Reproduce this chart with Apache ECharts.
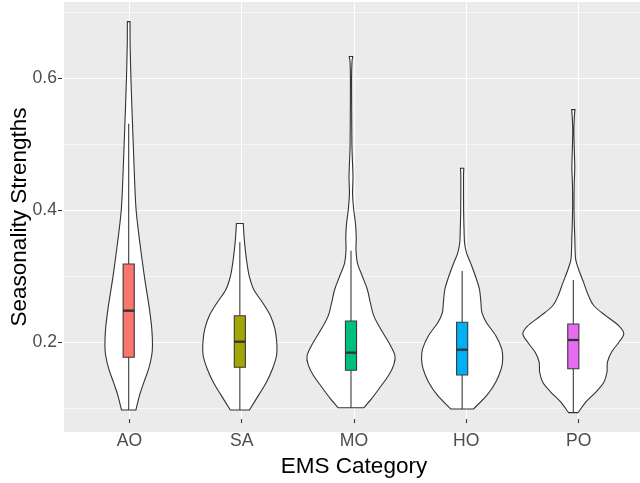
<!DOCTYPE html>
<html><head><meta charset="utf-8">
<script src="https://cdn.jsdelivr.net/npm/echarts@6/dist/echarts.min.js"></script>
<style>html,body{margin:0;padding:0;background:#fff}#c{width:640px;height:483px}</style>
</head><body><div id="c"></div>
<script>
// ---------------- data ----------------
const categories = ['AO', 'SA', 'MO', 'HO', 'PO'];
const yTickLabels = ['0.2', '0.4', '0.6'];

// violin outlines: value levels and half-widths (in category units)
const aoLevels = [0.0974, 0.12, 0.14, 0.16, 0.18, 0.195, 0.22, 0.25, 0.30, 0.35, 0.40, 0.45, 0.50, 0.55, 0.60, 0.65, 0.6858];
const aoWidths = [0.065, 0.098, 0.138, 0.180, 0.207, 0.214, 0.208, 0.187, 0.141, 0.101, 0.067, 0.052, 0.041, 0.030, 0.020, 0.013, 0.012];

const saLevels = [0.0974, 0.12, 0.14, 0.16, 0.18, 0.20, 0.22, 0.24, 0.26, 0.28, 0.30, 0.32, 0.34, 0.36, 0.38];
const saWidths = [0.086, 0.169, 0.240, 0.294, 0.330, 0.332, 0.316, 0.276, 0.205, 0.125, 0.085, 0.064, 0.049, 0.038, 0.031];

const moLevels = [0.1009, 0.115, 0.13, 0.15, 0.165, 0.18, 0.20, 0.22, 0.24, 0.26, 0.28, 0.30, 0.32, 0.34, 0.36, 0.38, 0.40, 0.425, 0.45, 0.47, 0.50, 0.55, 0.60, 0.625, 0.633];
const moWidths = [0.116, 0.187, 0.254, 0.339, 0.383, 0.395, 0.339, 0.267, 0.205, 0.174, 0.147, 0.102, 0.058, 0.045, 0.047, 0.040, 0.025, 0.014, 0.018, 0.014, 0.008, 0.006, 0.005, 0.009, 0.016];

const hoLevels = [0.099, 0.12, 0.14, 0.16, 0.175, 0.19, 0.21, 0.23, 0.245, 0.26, 0.28, 0.30, 0.32, 0.335, 0.35, 0.37, 0.40, 0.45, 0.4636];
const hoWidths = [0.102, 0.223, 0.303, 0.352, 0.365, 0.356, 0.303, 0.218, 0.178, 0.169, 0.156, 0.120, 0.076, 0.040, 0.022, 0.017, 0.013, 0.012, 0.015];

const poLevels = [0.0935, 0.11, 0.125, 0.14, 0.155, 0.17, 0.185, 0.20, 0.213, 0.225, 0.24, 0.255, 0.27, 0.29, 0.31, 0.325, 0.34, 0.36, 0.38, 0.41, 0.44, 0.465, 0.49, 0.52, 0.54, 0.5525];
const poWidths = [0.043, 0.116, 0.205, 0.276, 0.303, 0.307, 0.343, 0.410, 0.454, 0.410, 0.294, 0.187, 0.138, 0.094, 0.049, 0.022, 0.016, 0.013, 0.009, 0.006, 0.008, 0.013, 0.009, 0.005, 0.009, 0.015];

// box plot statistics
const boxQ1 = [0.1773, 0.1621, 0.1576, 0.1505, 0.1600];
const boxMedian = [0.2479, 0.2009, 0.1843, 0.1888, 0.2035];
const boxQ3 = [0.3186, 0.2403, 0.2323, 0.2303, 0.2277];
const whiskerLow = [0.0974, 0.0974, 0.1009, 0.0990, 0.0935];
const whiskerHigh = [0.5310, 0.3515, 0.3388, 0.3080, 0.2944];

// ---------------- style / layout ----------------
const levelsList = [aoLevels, saLevels, moLevels, hoLevels, poLevels];
const widthsList = [aoWidths, saWidths, moWidths, hoWidths, poWidths];
const fillColors = ['#F8766D', '#A3A500', '#00BF7D', '#00B0F6', '#E76BF3'];
const FONT = 'Liberation Sans, Arial, Helvetica, sans-serif';

const PL = 62, PT = 2, PW = 584, PH = 430;     // panel
const UNIT = PW / 5.2;                          // one category step
const PX_PER = 660;                             // pixels per 1.0 of y
const Y02 = 342.3;                              // pixel of y = 0.2
const yPix = v => Y02 - (v - 0.2) * PX_PER;

const chart = echarts.init(document.getElementById('c'), null, {renderer: 'canvas'});

// smooth curve through pixel points (Catmull-Rom as cubic Bezier segments)
function curveSegs(p) {
  let d = '';
  const n = p.length;
  for (let k = 0; k < n - 1; k++) {
    const p0 = p[Math.max(k - 1, 0)], p1 = p[k], p2 = p[k + 1], p3 = p[Math.min(k + 2, n - 1)];
    const c1 = [p1[0] + (p2[0] - p0[0]) / 6, p1[1] + (p2[1] - p0[1]) / 6];
    const c2 = [p2[0] - (p3[0] - p1[0]) / 6, p2[1] - (p3[1] - p1[1]) / 6];
    d += ' C' + c1[0].toFixed(2) + ',' + c1[1].toFixed(2) + ' ' + c2[0].toFixed(2) + ',' + c2[1].toFixed(2) + ' ' + p2[0].toFixed(2) + ',' + p2[1].toFixed(2);
  }
  return d;
}

function renderViolin(params, api) {
  const i = api.value(0);
  const lv = levelsList[i], wd = widthsList[i];
  const left = [], right = [];
  for (let k = 0; k < lv.length; k++) left.push(api.coord([i - wd[k], lv[k]]));
  for (let k = lv.length - 1; k >= 0; k--) right.push(api.coord([i + wd[k], lv[k]]));
  let d = 'M' + left[0][0].toFixed(2) + ',' + left[0][1].toFixed(2);
  d += curveSegs(left);
  d += ' L' + right[0][0].toFixed(2) + ',' + right[0][1].toFixed(2);
  d += curveSegs(right);
  d += ' Z';
  return {
    type: 'path',
    shape: {pathData: d},
    style: {fill: '#FFFFFF', stroke: '#333333', lineWidth: 1.1, lineJoin: 'miter'}
  };
}

function renderBox(params, api) {
  const i = api.value(0);
  const hw = 0.05;
  const tl = api.coord([i - hw, boxQ3[i]]);
  const br = api.coord([i + hw, boxQ1[i]]);
  const mL = api.coord([i - hw, boxMedian[i]]);
  const mR = api.coord([i + hw, boxMedian[i]]);
  const wl0 = api.coord([i, whiskerLow[i]]);
  const wl1 = api.coord([i, boxQ1[i]]);
  const wh0 = api.coord([i, boxQ3[i]]);
  const wh1 = api.coord([i, whiskerHigh[i]]);
  const ls = {stroke: '#3a3a3a', lineWidth: 1.1};
  return {
    type: 'group',
    children: [
      {type: 'line', shape: {x1: wl0[0], y1: wl0[1], x2: wl1[0], y2: wl1[1]}, style: ls},
      {type: 'line', shape: {x1: wh0[0], y1: wh0[1], x2: wh1[0], y2: wh1[1]}, style: ls},
      {type: 'rect', shape: {x: tl[0], y: tl[1], width: br[0] - tl[0], height: br[1] - tl[1]},
        style: {fill: fillColors[i], stroke: '#3a3a3a', lineWidth: 1.1}},
      {type: 'line', shape: {x1: mL[0], y1: mL[1], x2: mR[0], y2: mR[1]},
        style: {stroke: '#333333', lineWidth: 2.3}}
    ]
  };
}

const catIdx = categories.map((c, i) => [i]);

const option = {
  animation: false,
  backgroundColor: '#FFFFFF',
  grid: [
    {left: PL, top: PT, width: PW, height: PH, show: true, backgroundColor: '#EBEBEB', borderWidth: 0, z: -1},
    {left: PL, top: yPix(0.7), width: PW, height: yPix(0.1) - yPix(0.7), show: false},
    {left: PL, top: yPix(0.6), width: PW, height: yPix(0.2) - yPix(0.6), show: false},
    {left: PL + 0.6 * UNIT, top: PT, width: 4 * UNIT, height: PH, show: false}
  ],
  xAxis: [
    {gridIndex: 0, type: 'value', show: false, min: 0, max: 1},
    {gridIndex: 1, type: 'value', show: false, min: 0, max: 1},
    {gridIndex: 2, type: 'value', show: false, min: -0.6, max: 4.6},
    {gridIndex: 3, type: 'value', min: 0, max: 4, interval: 1, position: 'bottom',
      axisLine: {show: false, onZero: false},
      axisTick: {show: true, length: 4, lineStyle: {color: '#333333', width: 1.07}},
      axisLabel: {formatter: v => categories[v] || '', color: '#4D4D4D', fontSize: 17.6, fontFamily: FONT, margin: 13},
      splitLine: {show: true, lineStyle: {color: '#FFFFFF', width: 1.07}},
      name: 'EMS Category', nameLocation: 'middle', nameGap: 21,
      nameTextStyle: {color: '#000000', fontSize: 22.5, fontFamily: FONT}
    }
  ],
  yAxis: [
    {gridIndex: 0, type: 'value', min: 0, max: 1, position: 'left',
      axisLine: {show: false, onZero: false}, axisTick: {show: false}, axisLabel: {show: false}, splitLine: {show: false},
      name: 'Seasonality Strengths', nameLocation: 'middle', nameGap: 33,
      nameTextStyle: {color: '#000000', fontSize: 22.5, fontFamily: FONT}
    },
    {gridIndex: 1, type: 'value', min: 0.1, max: 0.7, interval: 0.1,
      axisLine: {show: false, onZero: false}, axisTick: {show: false}, axisLabel: {show: false},
      splitLine: {show: true, lineStyle: {color: '#FFFFFF', width: 0.55}}
    },
    {gridIndex: 2, type: 'value', min: 0.2, max: 0.6, interval: 0.2, position: 'left',
      axisLine: {show: false, onZero: false},
      axisTick: {show: true, length: 4, lineStyle: {color: '#333333', width: 1.07}},
      axisLabel: {formatter: v => yTickLabels[Math.round(v / 0.2) - 1] || '', color: '#4D4D4D', fontSize: 17.6, fontFamily: FONT, margin: 5},
      splitLine: {show: true, lineStyle: {color: '#FFFFFF', width: 1.07}}
    },
    {gridIndex: 3, type: 'value', show: false, min: 0, max: 1}
  ],
  series: [
    {type: 'custom', xAxisIndex: 2, yAxisIndex: 2, data: catIdx, renderItem: renderViolin, clip: false, z: 3, silent: true},
    {type: 'custom', xAxisIndex: 2, yAxisIndex: 2, data: catIdx, renderItem: renderBox, clip: false, z: 4, silent: true}
  ]
};
chart.setOption(option);
</script></body></html>
